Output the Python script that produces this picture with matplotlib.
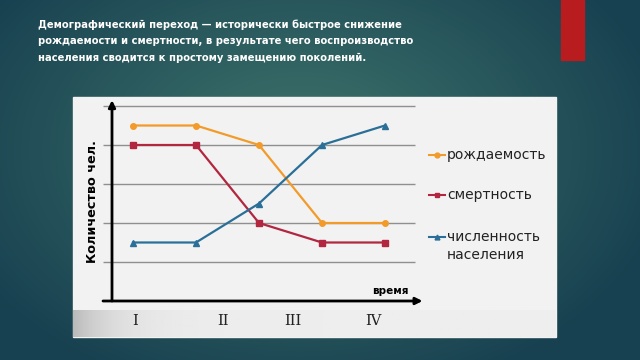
import numpy as np
import matplotlib.pyplot as plt
from matplotlib.patches import Rectangle
from matplotlib.lines import Line2D

# Data (gridline units)
stages = ['I', 'II', 'III', 'IV']
points = [0, 1, 2, 3, 4]
birth = [4.5, 4.5, 4.0, 2.0, 2.0]
death = [4.0, 4.0, 2.0, 1.5, 1.5]
population = [1.5, 1.5, 2.5, 4.0, 4.5]
series_names = ['рождаемость', 'смертность', 'численность\nнаселения']

W, H = 640, 360
fig = plt.figure(figsize=(6.4, 3.6), dpi=100)

def fx(px):
    return px / W

def fy(py):
    return 1 - py / H

# background: radial teal gradient, drawn in a full-figure axes
bg = fig.add_axes([0, 0, 1, 1], zorder=0)
yy, xx = np.mgrid[0:H, 0:W]
r = np.sqrt(((xx - 300) / 380) ** 2 + ((yy - 150) / 260) ** 2)
r = np.clip(r, 0, 1)[..., None]
c_in = np.array([0x3f, 0x75, 0x6c]) / 255
c_out = np.array([0x17, 0x40, 0x50]) / 255
bg.imshow(c_in * (1 - r) + c_out * r, extent=[0, 1, 0, 1], aspect='auto')
bg.set_xlim(0, 1)
bg.set_ylim(0, 1)
bg.set_axis_off()

# red accent bar and light panel
bg.add_patch(Rectangle((fx(561), fy(60)), fx(23), 60 / H, color='#b81c1e'))
bg.add_patch(Rectangle((fx(73), fy(337)), fx(556 - 73), (337 - 97) / H,
                       color='#f2f2f2'))

fig.text(fx(38), fy(20),
         'Демографический переход — исторически быстрое снижение\n'
         'рождаемости и смертности, в результате чего воспроизводство\n'
         'населения сводится к простому замещению поколений.',
         color='white', fontsize=7.2, fontweight='bold', va='top', ha='left',
         family='DejaVu Sans', linespacing=1.75)

# bottom strip with grey gradient
strip = fig.add_axes([fx(73), fy(337), fx(556 - 73), (337 - 310) / H], zorder=1)
g = np.linspace(0, 1, 300)
shade = 0.93 - 0.2 * np.exp(-g / 0.08)
strip.imshow(np.tile(shade, (10, 1)), cmap='gray', vmin=0, vmax=1,
             extent=[0, 1, 0, 1], aspect='auto')
strip.set_axis_off()

# main plot
ax = fig.add_axes([fx(103), fy(306), fx(425 - 103), (306 - 97) / H], zorder=2)
ax.set_xlim((103 - 133) / 63, (425 - 133) / 63)
ax.set_ylim(-(306 - 301) / 39, (301 - 97) / 39)
ax.set_axis_off()

xl, xr = (103 - 133) / 63, (415 - 133) / 63
ax.hlines([1, 2, 3, 4, 5], xl, xr, color='#8f8f8f', lw=1, zorder=1)

yx = (112 - 133) / 63
ax.annotate('', xy=(xr + 0.12, 0), xytext=(xl, 0),
            arrowprops=dict(arrowstyle='-|>', color='black', lw=2,
                            mutation_scale=10, shrinkA=0, shrinkB=0))
ax.annotate('', xy=(yx, 5.15), xytext=(yx, 0),
            arrowprops=dict(arrowstyle='-|>', color='black', lw=2,
                            mutation_scale=10, shrinkA=0, shrinkB=0))

c_birth, c_death, c_pop = '#f29b2a', '#b2263f', '#2a6f98'
ax.plot(points, birth, color=c_birth, marker='o', ms=4, lw=1.6, zorder=3)
ax.plot(points, death, color=c_death, marker='s', ms=5, lw=1.6, zorder=3)
ax.plot(points, population, color=c_pop, marker='^', ms=5, lw=1.6, zorder=3)

ax.text((390 - 133) / 63, 0.12, 'время', fontsize=7.5, fontweight='bold',
        ha='center', va='bottom')
fig.text(fx(93), fy(202), 'Количество чел.', rotation=90, fontsize=9.2,
         fontweight='bold', ha='center', va='center')

for px, lab in zip([135, 223, 293, 373], stages):
    fig.text(fx(px), fy(321), lab, family='DejaVu Serif', fontsize=10.5,
             color='#222222', ha='center', va='center')

# legend drawn by hand: marker on the first line of each label
for (c, m), name, py in zip([(c_birth, 'o'), (c_death, 's'), (c_pop, '^')],
                            series_names, [155, 195, 237]):
    fig.add_artist(Line2D([fx(429), fx(445)], [fy(py), fy(py)], color=c,
                          lw=1.5, transform=fig.transFigure))
    fig.add_artist(Line2D([fx(437)], [fy(py)], color=c, marker=m, ms=3.5,
                          transform=fig.transFigure))
    for i, part in enumerate(name.split('\n')):
        fig.text(fx(447), fy(py + 18 * i), part, fontsize=10,
                 color='#222222', ha='left', va='center')

fig.savefig('out.png', dpi=100)
